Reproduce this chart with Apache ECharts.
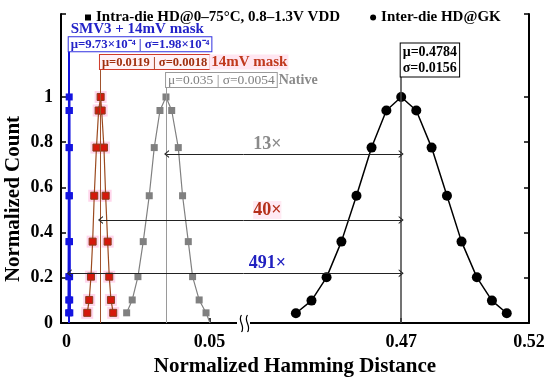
<!DOCTYPE html>
<html>
<head>
<meta charset="utf-8">
<style>html,body{margin:0;padding:0;background:#fff}#c{width:550px;height:384px}</style>
<script src="https://cdn.jsdelivr.net/npm/echarts@6/dist/echarts.min.js"></script>
</head>
<body>
<div id="c"></div>
<script>
// ---------- data ----------
const INTRA = 'Intra-die HD@0–75°C, 0.8–1.3V VDD';
const INTER = 'Inter-die HD@GK';

const blueX = [0.00076,0.0008,0.00083,0.00086,0.0009,0.00093,0.00095,0.00097,0.00099,0.00101,0.00104,0.00108,0.00111,0.00114,0.00118];
const blueY = [0.045,0.102,0.205,0.36,0.563,0.776,0.94,1.0,0.94,0.776,0.563,0.36,0.205,0.102,0.045];

const redX = [0.00727,0.00797,0.00857,0.00916,0.00972,0.01049,0.01126,0.01196,0.01231,0.01311,0.01371,0.01441,0.01497,0.01556,0.01636];
const redY = [0.045,0.102,0.205,0.36,0.563,0.776,0.94,1.0,0.94,0.776,0.563,0.36,0.205,0.102,0.045];

const grayX = [0.02105,0.0230,0.0250,0.02685,0.02895,0.0307,0.0327,0.0348,0.0368,0.0391,0.0406,0.0426,0.0441,0.0464,0.0488,0.0502];
const grayY = [0.045,0.102,0.205,0.36,0.563,0.776,0.94,1.0,0.94,0.776,0.563,0.36,0.205,0.102,0.045,0];

const blackX = [0.4288,0.4349,0.4408,0.4466,0.4525,0.4584,0.4642,0.47,0.4759,0.4819,0.4879,0.4936,0.4996,0.5055,0.5113];
const blackY = [0.043,0.099,0.202,0.36,0.563,0.776,0.94,1.0,0.94,0.776,0.563,0.36,0.202,0.099,0.043];

const means = {blue:0.00097, red:0.0119, gray:0.035, black:0.47};
const ratioLabels = ['13×','40×','491×'];
const yTickLabels = [0,0.2,0.4,0.6,0.8,1];
const xTickLabelsA = [0,0.05];
const xTickLabelsB = [0.47,0.52];

// ---------- chart ----------
const FONT = "'Liberation Serif','Times New Roman',serif";
const YMAX = 1.367;
const XA = [-0.0019, 0.0619];
const XB = [0.4083, 0.52];
const CHEV = 'path://M0,10 L5,0 L10,10 L8.4,10 L5,3.2 L1.6,10 Z';
const zip = (xs, ys) => xs.map((x,i)=>[x, ys[i]]);

const arrowsY = [0.748, 0.456, 0.22];
const arrowFrom = [means.gray, means.red, means.blue];
const ratioColors = ['#8a8a8a','#b4301a','#2020c0'];

function boxPoint(coord, formatter, rich, extra) {
  return Object.assign({
    coord: coord, symbol:'circle', symbolSize:1, itemStyle:{color:'transparent'},
    label:{show:true, position:[0,0], align:'left', verticalAlign:'bottom', formatter: formatter, rich: rich, fontFamily: FONT}
  }, extra || {});
}

const chart = echarts.init(document.getElementById('c'), null, {renderer:'canvas'});
const axisLineStyle = {color:'#000', width:2};

const option = {
  animation:false,
  backgroundColor:'#fff',
  legend:{
    left:80, top:5, itemWidth:6, itemHeight:6, itemGap:30, selectedMode:false,
    textStyle:{fontFamily:FONT, fontWeight:'bold', fontSize:15, color:'#000'},
    data:[{name:INTRA, icon:'rect', itemStyle:{color:'#000'}},{name:INTER, icon:'circle', itemStyle:{color:'#000'}}]
  },
  grid:[
    {left:61, top:14, width:182.5, bottom:61, containLabel:false},
    {left:243.5, top:14, width:285.5, bottom:61, containLabel:false}
  ],
  xAxis:[
    {gridIndex:0, type:'value', min:XA[0], max:XA[1], axisLine:{onZero:false, lineStyle:axisLineStyle},
     axisTick:{inside:true, length:5, lineStyle:{color:'#000', width:1.5}, customValues:[0.05]},
     axisLabel:{customValues:xTickLabelsA, margin:10, fontFamily:FONT, fontWeight:'bold', fontSize:18, color:'#000',
       formatter:v=> v===0?'0':String(+v.toFixed(2))},
     splitLine:{show:false}},
    {gridIndex:1, type:'value', min:XB[0], max:XB[1], axisLine:{onZero:false, lineStyle:axisLineStyle},
     axisTick:{inside:true, length:5, lineStyle:{color:'#000', width:1.5}, customValues:[0.47]},
     axisLabel:{customValues:xTickLabelsB, margin:10, fontFamily:FONT, fontWeight:'bold', fontSize:18, color:'#000',
       formatter:v=> String(+v.toFixed(2))},
     splitLine:{show:false}}
  ],
  yAxis:[
    {gridIndex:0, type:'value', min:0, max:YMAX, position:'left', axisLine:{show:true, onZero:false, lineStyle:axisLineStyle},
     axisTick:{show:true, inside:true, length:5, lineStyle:{color:'#000', width:1.5}, customValues:[0,0.2,0.4,0.6,0.8,1,YMAX]},
     axisLabel:{customValues:yTickLabels, margin:8, fontFamily:FONT, fontWeight:'bold', fontSize:18, color:'#000',
       formatter:v=> v>1.0001?'':(v===0?'0':String(+v.toFixed(1)))},
     splitLine:{show:false}},
    {gridIndex:1, type:'value', min:0, max:YMAX, position:'right', axisLine:{show:true, onZero:false, lineStyle:axisLineStyle},
     axisTick:{show:true, inside:true, length:5, lineStyle:{color:'#000', width:1.5}, customValues:[0.2,0.4,0.6,0.8,1,YMAX]},
     axisLabel:{show:false}, splitLine:{show:false}}
  ],
  series:[
    { name:'glow', type:'line', xAxisIndex:0, yAxisIndex:0, data:zip(redX, redY), symbol:'rect', symbolSize:12,
      itemStyle:{color:'#ffd6ec'}, lineStyle:{width:0, opacity:0}, z:1, silent:true },
    { name:INTRA, type:'line', xAxisIndex:0, yAxisIndex:0, data:zip(blueX, blueY), symbol:'rect', symbolSize:7,
      itemStyle:{color:'#1414e0'}, lineStyle:{color:'#1414e0', width:2.5}, z:4, silent:true,
      markLine:{silent:true, symbol:'none', animation:false, label:{show:false},
        data:[[{coord:[means.blue,0], lineStyle:{color:'#1414e0', width:2, type:'solid'}},{coord:[means.blue,1.2]}]]},
      markPoint:{silent:true, animation:false,
        data:[boxPoint([means.blue,1.2], '{t|SMV3 + 14mV mask}\n{b|μ=9.73×10⁻⁴ | σ=1.98×10⁻⁴}', {
          t:{color:'#2323c8', fontFamily:FONT, fontWeight:'bold', fontSize:15, lineHeight:17, padding:[0,0,0,2]},
          b:{color:'#2323c8', fontFamily:FONT, fontWeight:'bold', fontSize:12.8, lineHeight:14, borderColor:'#3030e0', borderWidth:1, padding:[1,2,0,2], backgroundColor:'#fff'}
        })]}
    },
    { name:INTRA, type:'line', xAxisIndex:0, yAxisIndex:0, data:zip(redX, redY), symbol:'rect', symbolSize:7,
      itemStyle:{color:'#d5180c', borderColor:'#8a3b1b', borderWidth:1}, lineStyle:{color:'#9b4a1f', width:1.2}, z:3, silent:true,
      markLine:{silent:true, symbol:'none', animation:false, label:{show:false},
        data:[[{coord:[means.red,0], lineStyle:{color:'#a0522d', width:1, type:'solid'}},{coord:[means.red,1.119]}]]},
      markPoint:{silent:true, animation:false,
        data:[boxPoint([means.red,1.119], '{b|μ=0.0119 | σ=0.0018}{t|14mV mask}', {
          b:{color:'#a0300f', fontFamily:FONT, fontWeight:'bold', fontSize:12.5, lineHeight:14, borderColor:'#d03a2a', borderWidth:1, padding:[1,2,0,2], backgroundColor:'#fff2f6'},
          t:{color:'#c0381c', fontFamily:FONT, fontWeight:'bold', fontSize:15, lineHeight:15, backgroundColor:'#ffe6f1', padding:[0,1,0,2]}
        })]}
    },
    { name:INTRA, type:'line', xAxisIndex:0, yAxisIndex:0, data:zip(grayX, grayY).map((p,i)=> i===grayX.length-1 ? {value:p, symbol:'none'} : p),
      symbol:'rect', symbolSize:7,
      itemStyle:{color:'#808080'}, lineStyle:{color:'#808080', width:1.2}, z:2, silent:true,
      markLine:{silent:true, symbol:'none', animation:false, label:{show:false},
        data:[[{coord:[means.gray,0], lineStyle:{color:'#9a9a9a', width:1, type:'solid'}},{coord:[means.gray,1.044]}]].concat(
          arrowsY.map((y,i)=>[
            {coord:[arrowFrom[i], y], symbol:CHEV, symbolSize:[8,5], lineStyle:{color:'#222', width:1, type:'solid'}},
            {coord:[XA[1], y], symbol:'none'}
          ]))},
      markPoint:{silent:true, animation:false,
        data:[boxPoint([means.gray,1.044], '{b|μ=0.035 | σ=0.0054}{t|Native}', {
          b:{color:'#808080', fontFamily:FONT, fontWeight:'normal', fontSize:13.5, lineHeight:13, borderColor:'#9a9a9a', borderWidth:1, padding:[0,2,0,2], backgroundColor:'#fff'},
          t:{color:'#8a8a8a', fontFamily:FONT, fontWeight:'bold', fontSize:14, lineHeight:13, padding:[0,0,0,2]}
        })]}
    },
    { name:INTER, type:'line', xAxisIndex:1, yAxisIndex:1, data:zip(blackX, blackY), symbol:'circle', symbolSize:10,
      itemStyle:{color:'#000'}, lineStyle:{color:'#000', width:1.5}, z:3, silent:true,
      markLine:{silent:true, symbol:'none', animation:false, label:{show:false},
        data:[[{coord:[means.black,0], lineStyle:{color:'#444', width:1.5, type:'solid'}},{coord:[means.black,1.088]}]].concat(
          arrowsY.map((y,i)=>[
            {coord:[XB[0], y], symbol:'none', lineStyle:{color:'#222', width:1, type:'solid'}},
            {coord:[means.black, y], symbol:CHEV, symbolSize:[8,5]}
          ]))},
      markPoint:{silent:true, animation:false,
        data:[boxPoint([means.black,1.088], 'μ=0.4784\nσ=0.0156', null, {
            label:{show:true, position:[0,0], align:'left', verticalAlign:'bottom', formatter:'μ=0.4784\nσ=0.0156',
              fontFamily:FONT, fontWeight:'bold', fontSize:14, lineHeight:16, color:'#000',
              borderColor:'#000', borderWidth:1, padding:[1,2,0,2], backgroundColor:'#fff'}})
        ].concat(arrowsY.map((y,i)=>({
          coord:[0.4176, y], symbol:'circle', symbolSize:1, itemStyle:{color:'transparent'},
          label:{show:true, position:'inside', offset:[0,-10], formatter:ratioLabels[i], fontFamily:FONT, fontWeight:'bold', fontSize:18,
            color:ratioColors[i], backgroundColor: i===1 ? '#ffeaf3' : 'transparent'}
        })))}
    }
  ],
  graphic:[
    {type:'text', z:100, x:14, y:199, rotation:Math.PI/2,
     style:{text:'Normalized Count', font:"bold 21px 'Liberation Serif','Times New Roman',serif", fill:'#000', textAlign:'center', textVerticalAlign:'middle'}},
    {type:'text', z:100, x:295, y:367,
     style:{text:'Normalized Hamming Distance', font:"bold 21px 'Liberation Serif','Times New Roman',serif", fill:'#000', textAlign:'center', textVerticalAlign:'middle'}},
    {type:'rect', z:100, shape:{x:237, y:319, width:13, height:8}, style:{fill:'#fff'}},
    {type:'bezierCurve', z:101, shape:{x1:241.5, y1:315, cpx1:237, cpy1:321, cpx2:246, cpy2:326, x2:241.5, y2:332}, style:{stroke:'#000', lineWidth:1.2, fill:null}},
    {type:'bezierCurve', z:101, shape:{x1:247.5, y1:315, cpx1:243, cpy1:321, cpx2:252, cpy2:326, x2:247.5, y2:332}, style:{stroke:'#000', lineWidth:1.2, fill:null}}
  ]
};
chart.setOption(option);
</script>
</body>
</html>
